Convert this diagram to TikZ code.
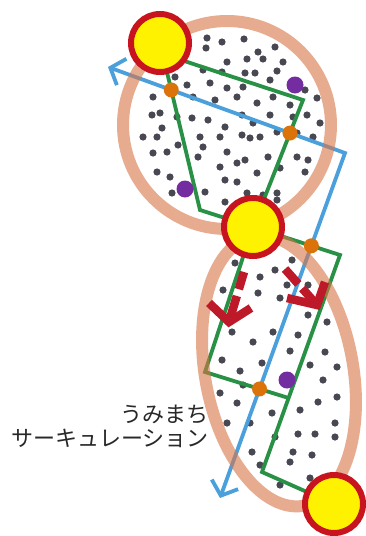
\documentclass[tikz,border=0pt]{standalone}
\usepackage{fontspec}
\newfontfamily\jpfont{Noto Sans CJK JP}
\usetikzlibrary{arrows.meta,intersections,calc}
\definecolor{ringc}{RGB}{216,118,70}
\definecolor{yel}{RGB}{255,242,0}
\definecolor{redr}{RGB}{200,20,30}
\definecolor{grn}{RGB}{40,145,70}
\definecolor{blu}{RGB}{75,160,220}
\definecolor{org}{RGB}{220,115,10}
\definecolor{pur}{RGB}{115,45,160}
\definecolor{redarr}{RGB}{190,25,40}
\definecolor{dotc}{RGB}{72,72,82}
\definecolor{txt}{RGB}{40,40,40}
\tikzset{
  ycirc/.style={circle, fill=yel, draw=redr, line width=6pt, minimum size=58pt, inner sep=0pt},
  gline/.style={draw=grn, line width=3.8pt, line join=miter},
  bline/.style={draw=blu, line width=3.8pt, line join=miter},
  ringline/.style={draw=ringc, line width=12pt, draw opacity=0.6},
  rarrow/.style={draw=redarr, line width=8.5pt, line cap=butt, line join=miter},
  odot/.style={fill=org},
  pdot/.style={fill=pur},
  gdot/.style={fill=dotc},
  lbl/.style={font=\jpfont\fontsize{22pt}{25pt}\selectfont, text=txt, inner sep=0pt, anchor=base east}
}
\begin{document}
\begin{tikzpicture}[x=1pt,y=-1pt]
\fill[white] (0,0) rectangle (366,536);
\useasboundingbox (0,0) rectangle (366,536);

% grey dots, top circle
\foreach \p in {(207,38),(222,42),(244,39),(275,47),(206,48),(258,52),(227,62),(247,59),(263,59),(283,62),
  (203,70),(222,72),(245,73),(255,73),(277,71),(175,77),(187,85),(210,83),(227,88),(243,87),(270,80),
  (305,90),(317,98),(153,97),(193,97),(215,100),(237,97),(257,103),(273,97),(290,105),(152,115),(160,113),
  (177,117),(192,118),(208,120),(225,127),(242,115),(253,123),(270,115),(293,117),(307,115),(320,123),
  (162,128),(143,137),(157,137),(178,145),(200,137),(220,137),(242,135),(250,138),(260,137),(277,132),
  (297,133),(313,137),(153,153),(167,152),(203,147),(227,152),(245,160),(268,157),(297,157),(308,160),
  (157,172),(170,177),(198,157),(220,167),(237,163),(257,173),(280,168),(305,172),(172,193),(205,192),
  (225,180),(237,182),(247,193),(263,195),(277,193),(225,202),(277,200)}
  \fill[gdot] \p circle[radius=3.6pt];
% grey dots, lower ellipse
\foreach \p in {(235,263),(260,277),(275,270),(292,260),(223,290),(258,293),(280,298),(287,285),(308,285),
  (308,315),(327,322),(232,332),(273,332),(298,335),(253,342),(222,360),(240,371),(262,363),(290,351),
  (325,352),(310,365),(337,367),(323,380),(337,397),(220,393),(237,403),(243,385),(272,413),(300,410),
  (318,402),(227,423),(250,423),(335,423),(275,437),(298,434),(315,434),(335,437),(252,452),(293,452),
  (312,455),(290,462),(260,465),(280,485),(310,478)}
  \fill[gdot] \p circle[radius=3.6pt];

% main circles (positions)
\coordinate (TCc) at (160,43);
\coordinate (MCc) at (253,227);
\coordinate (BCc) at (334,504);
\coordinate (RC) at (227,125);
\coordinate (EC) at (279,371);

% green lines
\coordinate (t1) at (166,55);
\coordinate (g1) at (303,100);
\coordinate (g2) at (200,210);
\coordinate (g3) at (340,255);
\coordinate (g4) at (262,472);
\coordinate (g5) at (205,372);
\coordinate (g6) at ($(g3)!0.659!(g4)$);
\draw[gline, name path=gR] (t1) -- (g1) -- (MCc);
\draw[gline, name path=gL] (TCc) -- (g2) -- (MCc);
\draw[gline, name path=gD] (MCc) -- (g3) -- (g4) -- (BCc);
\draw[gline, name path=gX] (MCc) -- (g5) -- (g6);

% blue arrow
\coordinate (B1) at (108,67);
\coordinate (B2) at (345,153);
\coordinate (B3) at (220,498);
\draw[bline, name path=blue, {Straight Barb[length=12pt,width=28pt]}-{Straight Barb[length=12pt,width=28pt]}] (B1) -- (B2) -- (B3);

% rings
\draw[ringline] (RC) circle[radius=104pt] (EC) ellipse[x radius=74pt, y radius=137pt, rotate=10.5];

% red dashed arrows
\coordinate (RA1s) at (244,272);
\coordinate (RA1t) at (229,322);
\coordinate (RA1a) at (209,303);
\coordinate (RA1b) at (251,308);
\draw[rarrow, dash pattern=on 18pt off 7pt on 60pt off 0pt] (RA1s) -- (RA1t);
\draw[rarrow] (RA1a) -- (RA1t) -- (RA1b);
\coordinate (RA2s) at (285,269);
\coordinate (RA2t) at (317,305);
\coordinate (RA2a) at (287,298);
\coordinate (RA2b) at (325,282);
\draw[rarrow, dash pattern=on 20pt off 6pt on 60pt off 0pt] (RA2s) -- (RA2t);
\draw[rarrow] (RA2a) -- (RA2t) -- (RA2b);

% orange intersection dots
\path[name intersections={of=blue and gL, by=O1}];
\path[name intersections={of=blue and gR, by=O2}];
\path[name intersections={of=blue and gD, by=O3}];
\path[name intersections={of=blue and gX, by=O4}];
\foreach \o in {O1,O2,O3,O4} \fill[odot] (\o) circle[radius=7.5pt];

% purple dots
\fill[pdot] (295,85) circle[radius=8.5pt];
\fill[pdot] (185,189) circle[radius=8.5pt];
\fill[pdot] (287,380) circle[radius=8.5pt];

% yellow circles
\node[ycirc] (TC) at (TCc) {};
\node[ycirc] (MC) at (MCc) {};
\node[ycirc] (BC) at (BCc) {};

% label
\node[lbl] (L1) at (209,422) {うみまち};
\node[lbl] (L2) at (209,446) {サーキュレーション};
\end{tikzpicture}
\end{document}
